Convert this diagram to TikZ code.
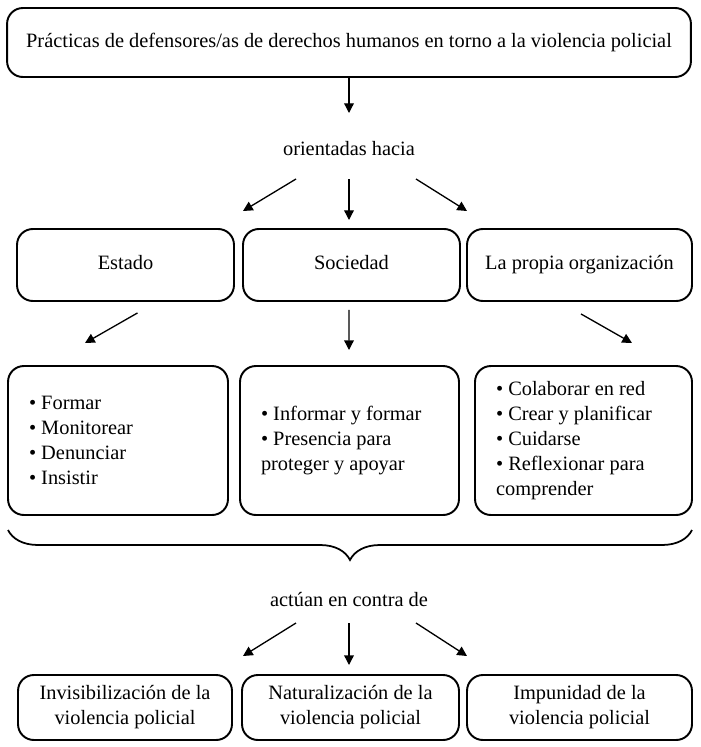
\documentclass[tikz,border=0pt]{standalone}
\usepackage{fontspec}
\setmainfont{Liberation Serif}
\usetikzlibrary{arrows.meta,positioning,decorations.pathreplacing}

\begin{document}
\begin{tikzpicture}[x=0.02cm,y=-0.02cm,
  box/.style={draw,line width=1.1pt,rounded corners=9pt,align=center,inner sep=0pt,
    font=\fontsize{11.6}{14.2}\selectfont},
  one/.style={box,text height=1.6ex,text depth=0.4ex},
  lst/.style={box,align=flush left,inner xsep=0.42cm,minimum height=2.98cm},
  lbl/.style={font=\fontsize{11.6}{14.2}\selectfont},
  arr/.style={-{Triangle[length=5.5pt,width=5.5pt]},line width=0.75pt}]
\useasboundingbox (0,0) rectangle (700,747);

% Top box
\node[one,minimum width=13.68cm,minimum height=1.38cm] (top) at (349,42.5)
  {Prácticas de defensores/as de derechos humanos en torno a la violencia policial};
\node[lbl] (orient) at (349,149) {orientadas hacia};
\coordinate (t1) at (349,113);
\draw[arr] (top.south) -- (t1);

% Orientation boxes
\node[one,minimum width=4.34cm,minimum height=1.44cm] (estado) at (125.5,265) {Estado};
\node[one,minimum width=4.34cm,minimum height=1.44cm] (sociedad) at (351.5,265) {Sociedad};
\node[one,minimum width=4.5cm,minimum height=1.44cm] (propia) at (579.5,265) {La propia organización};

% Arrows to orientation boxes
\coordinate (o1) at (296,179); \coordinate (e1) at (243,211);
\coordinate (o2) at (349,179); \coordinate (e2) at (349,220);
\coordinate (o3) at (416,179); \coordinate (e3) at (467,211);
\draw[arr] (o1) -- (e1);
\draw[arr] (o2) -- (e2);
\draw[arr] (o3) -- (e3);

% Practice lists
\node[lst,text width=3.56cm] (lstEstado) at (118,440.5)
  {\textbullet\ Formar\\ \textbullet\ Monitorear\\ \textbullet\ Denunciar\\ \textbullet\ Insistir};
\node[lst,text width=3.54cm] (lstSociedad) at (349.5,440.5)
  {\textbullet\ Informar y formar\\ \textbullet\ Presencia para\\ proteger y apoyar};
\node[lst,text width=3.5cm] (lstPropia) at (583.5,440.5)
  {\textbullet\ Colaborar en red\\ \textbullet\ Crear y planificar\\ \textbullet\ Cuidarse\\
   \textbullet\ Reflexionar para\\ comprender};

% Arrows to lists
\coordinate (p1) at (85,343);  \coordinate (p2) at (349,350); \coordinate (p3) at (632,343);
\draw[arr] ([xshift=0.24cm,yshift=-0.22cm]estado.south) -- (p1);
\draw[arr] ([xshift=-0.05cm,yshift=-0.16cm]sociedad.south) -- (p2);
\draw[arr] ([xshift=0.03cm,yshift=-0.24cm]propia.south) -- (p3);

% Brace
\coordinate (bl) at (8,530); \coordinate (br) at (692,530);
\draw[line width=1pt,decorate,decoration={brace,mirror,amplitude=0.6cm}] (bl) -- (br);
\node[lbl] (contra) at (349,600) {actúan en contra de};

% Arrows to effects
\coordinate (c1) at (296,623); \coordinate (f1) at (243,656);
\coordinate (c2) at (349,623); \coordinate (f2) at (349,665);
\coordinate (c3) at (416,623); \coordinate (f3) at (467,656);
\draw[arr] (c1) -- (f1);
\draw[arr] (c2) -- (f2);
\draw[arr] (c3) -- (f3);

% Effect boxes
\node[box,minimum width=4.28cm,minimum height=1.3cm] (invis) at (125,707.5)
  {Invisibilización de la\\ violencia policial};
\node[box,minimum width=4.34cm,minimum height=1.3cm] (natur) at (350.5,707.5)
  {Naturalización de la\\ violencia policial};
\node[box,minimum width=4.5cm,minimum height=1.3cm] (impun) at (579.5,707.5)
  {Impunidad de la\\ violencia policial};
\end{tikzpicture}
\end{document}
